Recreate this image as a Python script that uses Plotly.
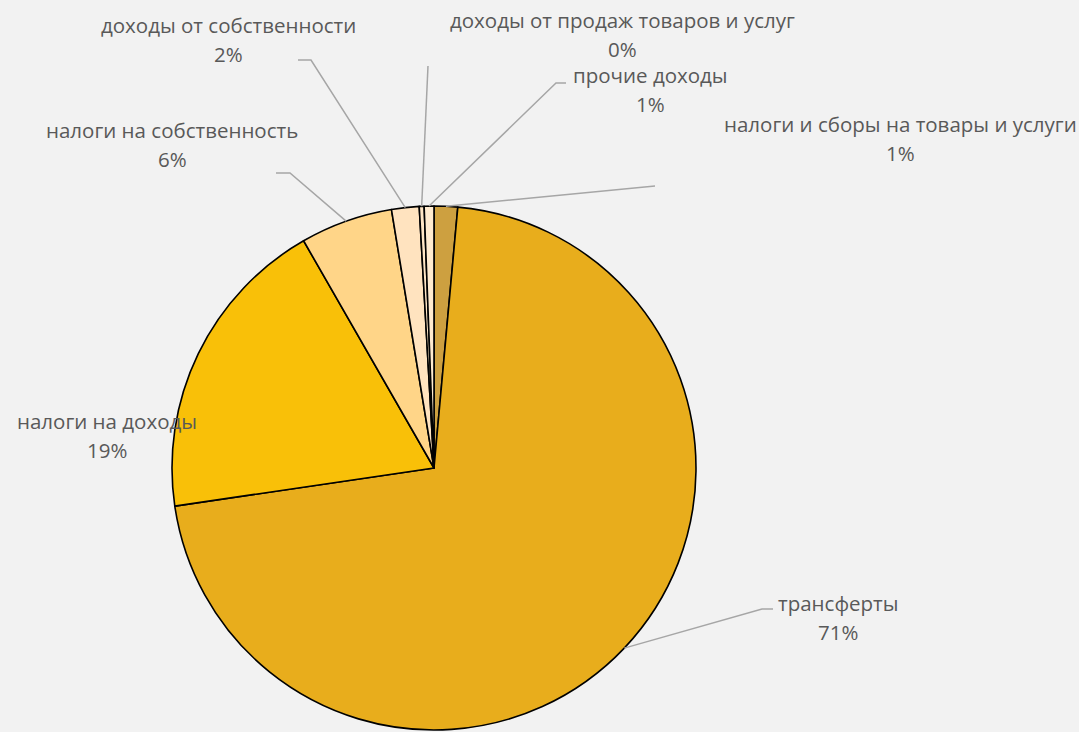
import math
import plotly.graph_objects as go

labels = [
    "налоги и сборы на товары и услуги",
    "трансферты",
    "налоги на доходы",
    "налоги на собственность",
    "доходы от собственности",
    "доходы от продаж товаров и услуг",
    "прочие доходы",
]
values = [1.45, 71.3, 19.05, 5.7, 1.7, 0.3, 0.6]
colors = ["#CDA040", "#E8AD1C", "#F9C008", "#FFD588", "#FFE3BF", "#FFE6C6", "#FFEBD0"]

W, H = 1079, 732
CX, CY, R = 434, 468, 262

# label text centers (pixels) and leader elbow points (pixels) per slice
label_pos = {
    0: (900, 124),
    1: (838, 603),
    2: (107, 421),
    3: (172, 130),
    4: (228, 25),
    5: (622, 20),
    6: (650, 75),
}
elbows = {
    0: [(655, 186)],
    1: [(773, 609), (762, 609)],
    3: [(276, 173), (290, 173)],
    4: [(298, 60), (311, 60)],
    5: [(428, 66)],
    6: [(566, 83), (556, 83)],
}

total = sum(values)
pcts = [v / total * 100 for v in values]

def px(x, y):
    return x / W, 1 - y / H

fig = go.Figure(go.Pie(
    labels=labels, values=values, sort=False, direction="clockwise", rotation=0,
    marker=dict(colors=colors, line=dict(color="#000000", width=1.6)),
    textinfo="none", hoverinfo="label+percent", showlegend=False,
    domain=dict(x=[(CX - R) / W, (CX + R) / W], y=[(H - CY - R) / H, (H - CY + R) / H]),
))

font = dict(family="Open Sans, sans-serif", size=20.5, color="#595959")
annotations = []
shapes = []
cum = 0.0
for i, (lab, p) in enumerate(zip(labels, pcts)):
    mid = (cum + p / 2) / 100 * 2 * math.pi
    cum += p
    lx, ly = label_pos[i]
    x, y = px(lx, ly)
    annotations.append(dict(x=x, y=y, xref="paper", yref="paper", text=lab, showarrow=False,
                            xanchor="center", yanchor="middle", font=font))
    x2, y2 = px(lx, ly + 29)
    annotations.append(dict(x=x2, y=y2, xref="paper", yref="paper", text=f"{round(p):.0f}%",
                            showarrow=False, xanchor="center", yanchor="middle", font=font))
    if i in elbows:
        ex = CX + R * math.sin(mid)
        ey = CY - R * math.cos(mid)
        pts = elbows[i] + [(ex, ey)]
        path = "M " + " L ".join(f"{px(a, b)[0]:.5f},{px(a, b)[1]:.5f}" for a, b in pts)
        shapes.append(dict(type="path", path=path, xref="paper", yref="paper",
                           line=dict(color="#A6A6A6", width=1.5), layer="above"))

fig.update_layout(
    width=W, height=H, margin=dict(l=0, r=0, t=0, b=0),
    paper_bgcolor="#F2F2F2", plot_bgcolor="#F2F2F2",
    annotations=annotations, shapes=shapes,
)
fig.write_html(
    "out.html",
    config={"displayModeBar": False},
    post_script="document.body.style.margin='0';document.body.style.overflow='hidden';"
                "document.body.style.background='#F2F2F2';",
)
